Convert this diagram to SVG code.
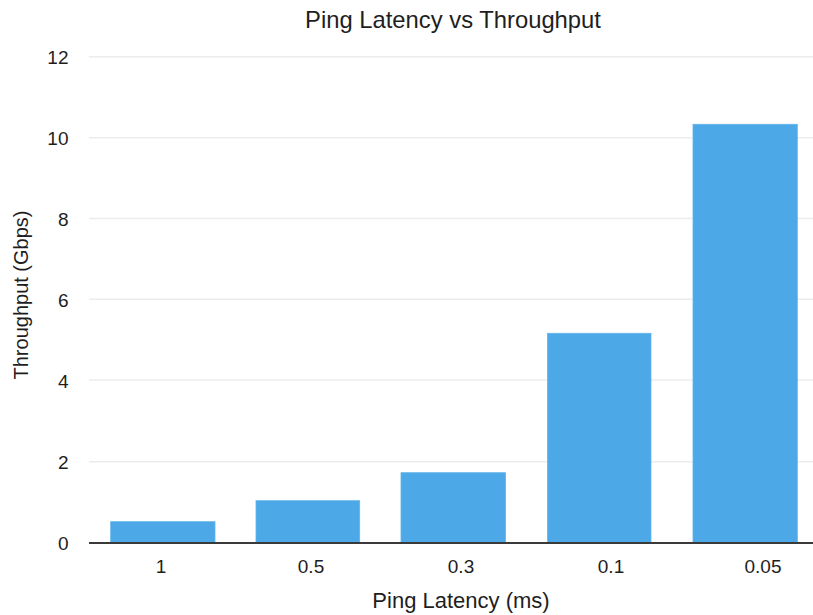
<svg xmlns="http://www.w3.org/2000/svg" width="813" height="615" viewBox="0 0 813 615">
  <style>
    .txt { font-family: "Liberation Sans", Arial, Helvetica, sans-serif; fill: #1e1e1e; }
    .title { font-size: 23.8px; }
    .axis-title { font-size: 22px; }
    .tick { font-size: 19px; }
    .grid line { stroke: #ececec; stroke-width: 1.6; }
    .bar { fill: #4ca8e6; stroke: #62b4ea; stroke-width: 0.8; }
    .axis { stroke: #3a3a3a; stroke-width: 2; }
  </style>
  <rect width="813" height="615" fill="#ffffff"/>

  <!-- title -->
  <text class="txt title" x="453" y="28" text-anchor="middle">Ping Latency vs Throughput</text>

  <!-- horizontal gridlines -->
  <g class="grid">
    <line x1="89" y1="56.7" x2="813" y2="56.7"/>
    <line x1="89" y1="137.7" x2="813" y2="137.7"/>
    <line x1="89" y1="218.5" x2="813" y2="218.5"/>
    <line x1="89" y1="299.2" x2="813" y2="299.2"/>
    <line x1="89" y1="380" x2="813" y2="380"/>
    <line x1="89" y1="461.7" x2="813" y2="461.7"/>
  </g>

  <!-- y tick labels -->
  <g class="txt tick" text-anchor="end">
    <text x="68.5" y="64">12</text>
    <text x="68.5" y="144.5">10</text>
    <text x="68.5" y="225.5">8</text>
    <text x="68.5" y="306.5">6</text>
    <text x="68.5" y="387.5">4</text>
    <text x="68.5" y="469">2</text>
    <text x="68.5" y="550">0</text>
  </g>

  <!-- bars -->
  <g id="bar-1"><rect class="bar" x="110.7" y="521.7" width="104.3" height="21"/></g>
  <g id="bar-0.5"><rect class="bar" x="256" y="500.7" width="103.7" height="42"/></g>
  <g id="bar-0.3"><rect class="bar" x="401" y="472.7" width="104.5" height="70"/></g>
  <g id="bar-0.1"><rect class="bar" x="547.5" y="333.3" width="103.5" height="209.4"/></g>
  <g id="bar-0.05"><rect class="bar" x="693" y="124.3" width="104.3" height="418.4"/></g>

  <!-- x axis -->
  <line class="axis" x1="89" y1="543" x2="813" y2="543"/>

  <!-- x tick labels -->
  <g class="txt tick" text-anchor="middle">
    <text x="161" y="572.5">1</text>
    <text x="311" y="572.5">0.5</text>
    <text x="461" y="572.5">0.3</text>
    <text x="611" y="572.5">0.1</text>
    <text x="763" y="572.5">0.05</text>
  </g>

  <!-- axis titles -->
  <text class="txt axis-title" x="461" y="608" text-anchor="middle">Ping Latency (ms)</text>
  <text class="txt" font-size="20" x="0" y="0" text-anchor="middle" transform="translate(28,295) rotate(-90)">Throughput (Gbps)</text>
</svg>
